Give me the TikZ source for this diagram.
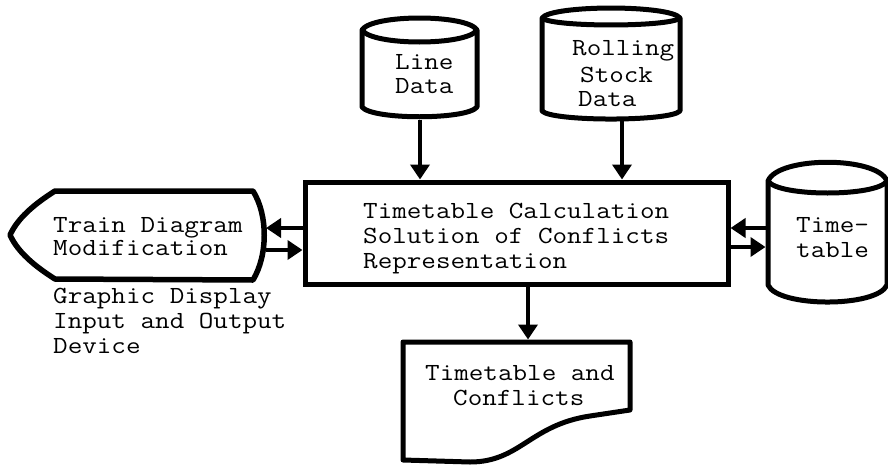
\documentclass[tikz,border=0pt]{standalone}
\usepackage{fontspec}
\usepackage{graphicx}
\usetikzlibrary{arrows.meta}
\newcommand\diagfnt{\ttfamily\fontsize{24.6}{25}\selectfont}
\newcommand\wtxt[1]{\scalebox{1.15}[1]{#1}}
\tikzset{
  shapeline/.style={line width=5pt, line join=round},
  arr/.style={line width=4pt, -{Triangle[length=15pt,width=19pt]}},
  lbl/.style={anchor=base west, inner sep=0pt, font=\diagfnt},
}
\begin{document}
\begin{tikzpicture}[x=1pt,y=-1pt]
\useasboundingbox (0,0) rectangle (888,466);

% main processing box
\node[draw, line width=5pt, minimum width=423pt, minimum height=102pt, inner sep=0pt] (main) at (516.5,233) {};
\node[lbl] (m1) at (363,218) {\wtxt{Timetable Calculation}};
\node[lbl] (m2) at (363,243) {\wtxt{Solution of Conflicts}};
\node[lbl] (m3) at (363,268) {\wtxt{Representation}};

% Line Data cylinder
\draw[shapeline, fill=white] (362,30) .. controls (372,14) and (467,14) .. (477,30) -- (477,107) .. controls (467,120) and (372,120) .. (362,107) -- cycle;
\draw[shapeline] (362,30) .. controls (372,46) and (467,46) .. (477,30);
\node[lbl] (ld1) at (395,69) {\wtxt{Line}};
\node[lbl] (ld2) at (395,93) {\wtxt{Data}};

% Rolling Stock Data cylinder
\draw[shapeline, fill=white] (542,18) .. controls (552,4.7) and (670,4.7) .. (680,18) -- (680,111) .. controls (670,121.7) and (552,121.7) .. (542,111) -- cycle;
\draw[shapeline] (542,18) .. controls (552,27.3) and (670,27.3) .. (680,18);
\node[lbl] (rs1) at (572,55) {\wtxt{Rolling}};
\node[lbl] (rs2) at (580,82) {\wtxt{Stock}};
\node[lbl] (rs3) at (578,106) {\wtxt{Data}};

% Timetable cylinder
\draw[shapeline, fill=white] (768,181) .. controls (778,156) and (877,156) .. (887,181) -- (887,285) .. controls (877,307.7) and (778,307.7) .. (768,285) -- cycle;
\draw[shapeline] (768,181) .. controls (778,197) and (877,197) .. (887,181);
\node[lbl] (tt1t) at (796,232) {\wtxt{Time-}};
\node[lbl] (tt2t) at (796,257) {\wtxt{table}};

% Graphic display shape
\draw[shapeline, line width=5.5pt, fill=white] (55,191) -- (253,191) .. controls (268,215) and (268,255) .. (253,280) -- (55,279)
  .. controls (28,262) and (16,248) .. (10,235) .. controls (16,222) and (28,208) .. (55,191) -- cycle;
\node[lbl] (dp1t) at (53,232) {\wtxt{Train Diagram}};
\node[lbl] (dp2t) at (53,255) {\wtxt{Modification}};
\node[lbl] (g1) at (53,303) {\wtxt{Graphic Display}};
\node[lbl] (g2) at (53,328) {\wtxt{Input and Output}};
\node[lbl] (g3) at (53,353) {\wtxt{Device}};

% Document shape
\draw[shapeline, fill=white] (403,342) -- (630,342) -- (630,410) -- (590,416)
  .. controls (530,425) and (520,462) .. (470,462) -- (403,460) -- cycle;
\node[lbl] (dc1) at (425,380) {\wtxt{Timetable and}};
\node[lbl] (dc2) at (453,405) {\wtxt{Conflicts}};

% connector end points
\coordinate (ld) at (420,119.5);
\coordinate (rs) at (622,120);
\coordinate (tt1) at (765.5,228);
\coordinate (tt2) at (765.5,247);
\coordinate (dp1) at (266,228);
\coordinate (dp2) at (266,250);
\coordinate (dc) at (528,339.5);

% connectors
\draw[arr] (ld) -- (ld |- main.north);
\draw[arr] (rs) -- (rs |- main.north);
\draw[arr] (tt1) -- (tt1 -| main.east);
\draw[arr] (tt2 -| main.east) -- (tt2);
\draw[arr] (dp1 -| main.west) -- (dp1);
\draw[arr] (dp2) -- (dp2 -| main.west);
\draw[arr] (main.south -| dc) -- (dc);
\end{tikzpicture}
\end{document}
